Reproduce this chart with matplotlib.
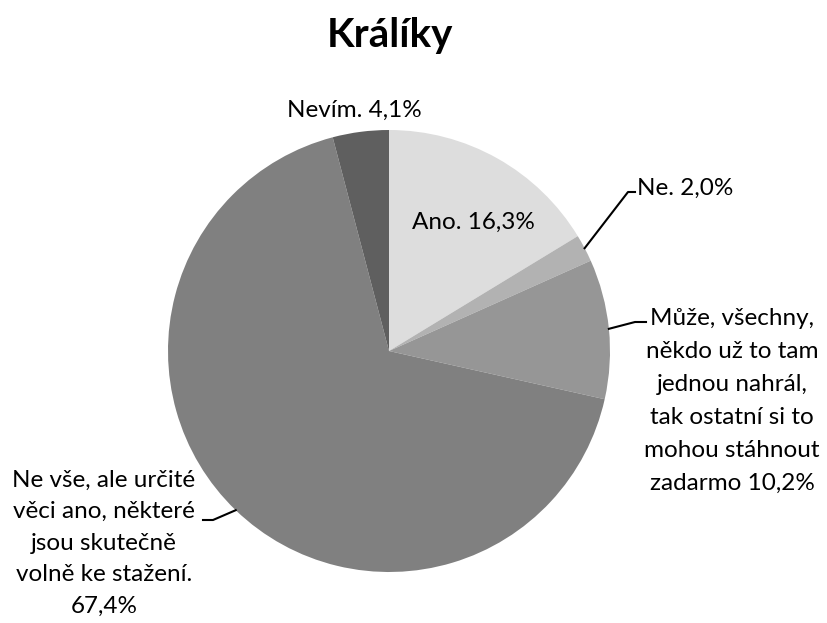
import numpy as np
import matplotlib.pyplot as plt

plt.rcParams['font.family'] = ['Lato', 'DejaVu Sans']

title = "Králíky"
categories = ["Ano.", "Ne.",
              "Může, všechny,\nněkdo už to tam\njednou nahrál,\ntak ostatní si to\nmohou stáhnout\nzadarmo",
              "Ne vše, ale určité\nvěci ano, některé\njsou skutečně\nvolně ke stažení.\n",
              "Nevím."]
shares = [16.3, 2.0, 10.2, 67.4, 4.1]
colors = ["#dddddd", "#b2b2b2", "#969696", "#808080", "#5f5f5f"]

fig = plt.figure(figsize=(8.27, 6.23), dpi=100)
ax = fig.add_axes([0, 0, 1, 1])

cx, cy, r = 389, 272, 221
wedges, _ = ax.pie(shares, colors=colors, startangle=90, counterclock=False,
                   center=(cx, cy), radius=r, frame=True)
ax.set_xlim(0, 827)
ax.set_ylim(0, 623)
ax.set_aspect('equal')
ax.axis('off')

def fmt(v):
    return f"{v:.1f}".replace(".", ",") + "%"

labels = []
for c, v in zip(categories, shares):
    sep = "" if c.endswith("\n") else " "
    labels.append(c + sep + fmt(v))

fs = 17.5
ax.text(473, 401, labels[0], ha='center', va='center', fontsize=fs)
ax.text(637, 435, labels[1], ha='left', va='center', fontsize=fs)
ax.text(732, 222, labels[2], ha='center', va='center', fontsize=fs, linespacing=1.7)
ax.text(104, 80, labels[3], ha='center', va='center', fontsize=fs, linespacing=1.62)
ax.text(354, 513, labels[4], ha='center', va='center', fontsize=fs)

def edge(w):
    a = np.deg2rad((w.theta1 + w.theta2) / 2)
    return cx + r * np.cos(a), cy + r * np.sin(a)

# leader lines
ex, ey = edge(wedges[1])
ax.plot([ex, 628, 635], [ey, 431, 431], color='black', lw=1.5)
ex, ey = edge(wedges[2])
ax.plot([ex, 635, 646], [ey, 301, 301], color='black', lw=1.5)
ex, ey = edge(wedges[3])
ax.plot([ex, 213, 203], [ey, 103, 103], color='black', lw=1.5)

ax.text(390, 576, title, ha='center', va='baseline', fontsize=29, fontweight='bold')

fig.savefig("out.png", dpi=100)
